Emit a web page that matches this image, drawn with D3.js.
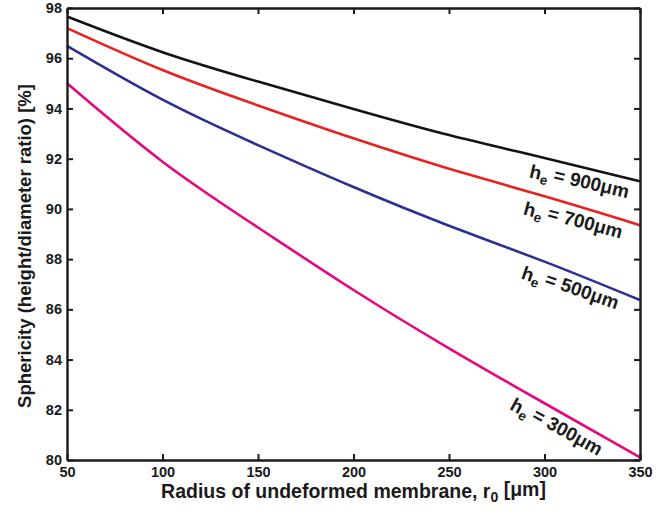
<!DOCTYPE html>
<html>
<head>
<meta charset="utf-8">
<script src="https://cdn.jsdelivr.net/npm/d3@7"></script>
<style>
  body { margin: 0; background: #fff; }
  text { font-family: "Liberation Sans", Arial, sans-serif; font-weight: bold; }
</style>
</head>
<body>
<svg id="chart" width="668" height="516"></svg>
<script>
// radius of undeformed membrane r0 [um]
var radius = [50, 100, 150, 200, 250, 300, 350];

// sphericity [%] for each membrane height he
var he900 = [97.66, 96.24, 95.07, 93.98, 92.94, 92.03, 91.1];
var he700 = [97.2, 95.53, 94.12, 92.81, 91.6, 90.5, 89.35];
var he500 = [96.49, 94.35, 92.54, 90.87, 89.33, 87.9, 86.37];
var he300 = [95.0, 91.88, 89.26, 86.77, 84.45, 82.26, 80.1];

var xTicks = [50, 100, 150, 200, 250, 300, 350];
var yTicks = [80, 82, 84, 86, 88, 90, 92, 94, 96, 98];

var series = [
  {name: "900", values: he900, color: "#141414", labelAt: 320, angle: 13},
  {name: "700", values: he700, color: "#e8221f", labelAt: 317, angle: 15},
  {name: "500", values: he500, color: "#2b3190", labelAt: 316, angle: 19},
  {name: "300", values: he300, color: "#e5077f", labelAt: 310, angle: 29}
];

var margin = {left: 67, right: 28, top: 8, bottom: 56};
var width = 668, height = 516;

var svg = d3.select("#chart");

var xScale = d3.scaleLinear().domain([50, 350]).range([margin.left, width - margin.right]);
var yScale = d3.scaleLinear().domain([80, 98]).range([height - margin.bottom, margin.top]);

// curves
var line = d3.line()
  .x(function(d) { return xScale(d[0]); })
  .y(function(d) { return yScale(d[1]); })
  .curve(d3.curveNatural);

series.forEach(function(s) {
  var pts = radius.map(function(r, i) { return [r, s.values[i]]; });
  svg.append("path")
    .attr("d", line(pts))
    .attr("fill", "none")
    .attr("stroke", s.color)
    .attr("stroke-width", 2.6);
});

// axes, ticks inward on all four sides
var tickLen = 6;
svg.append("g")
  .attr("transform", "translate(0," + yScale(80) + ")")
  .call(d3.axisBottom(xScale).tickValues(xTicks).tickSizeInner(-tickLen).tickSizeOuter(0).tickPadding(7))
  .call(styleAxis);
svg.append("g")
  .attr("transform", "translate(0," + yScale(98) + ")")
  .call(d3.axisTop(xScale).tickValues(xTicks).tickSizeInner(-tickLen).tickSizeOuter(0).tickFormat(""))
  .call(styleAxis);
svg.append("g")
  .attr("transform", "translate(" + xScale(50) + ",0)")
  .call(d3.axisLeft(yScale).tickValues(yTicks).tickSizeInner(-tickLen).tickSizeOuter(0).tickPadding(5))
  .call(styleAxis);
svg.append("g")
  .attr("transform", "translate(" + xScale(350) + ",0)")
  .call(d3.axisRight(yScale).tickValues(yTicks).tickSizeInner(-tickLen).tickSizeOuter(0).tickFormat(""))
  .call(styleAxis);

function styleAxis(g) {
  g.select(".domain").attr("stroke", "#1a1a1a").attr("stroke-width", 2.4);
  g.selectAll(".tick line").attr("stroke", "#1a1a1a").attr("stroke-width", 2);
  g.selectAll(".tick text").attr("fill", "#1a1a1a").style("font-size", "14.5px").style("font-weight", "bold");
}

// curve labels
function valueAt(s, r) {
  var i = d3.bisectRight(radius, r) - 1;
  i = Math.max(0, Math.min(radius.length - 2, i));
  var t = (r - radius[i]) / (radius[i + 1] - radius[i]);
  return s.values[i] + t * (s.values[i + 1] - s.values[i]);
}

series.forEach(function(s) {
  var px = xScale(s.labelAt), py = yScale(valueAt(s, s.labelAt));
  var t = svg.append("text")
    .attr("transform", "translate(" + px + "," + py + ") rotate(" + s.angle + ")")
    .attr("text-anchor", "middle")
    .attr("dy", "1.15em")
    .attr("fill", "#1a1a1a")
    .style("font-size", "19px");
  t.append("tspan").text("h");
  t.append("tspan").attr("dy", "0.3em").style("font-size", "13.5px").text("e");
  t.append("tspan").attr("dy", "-0.3em").text(" = " + s.name + "\u03bcm");
});

// axis titles
var xt = svg.append("text")
  .attr("x", (xScale(50) + xScale(350)) / 2)
  .attr("y", 498)
  .attr("text-anchor", "middle")
  .attr("fill", "#1a1a1a")
  .style("font-size", "19.5px");
xt.append("tspan").text("Radius of undeformed membrane, r");
xt.append("tspan").attr("dy", "0.3em").style("font-size", "14px").text("0");
xt.append("tspan").attr("dy", "-0.3em").text(" [\u03bcm]");

svg.append("text")
  .attr("transform", "translate(31,246) rotate(-90)")
  .attr("text-anchor", "middle")
  .attr("fill", "#1a1a1a")
  .style("font-size", "18.5px")
  .text("Sphericity (height/diameter ratio) [%]");
</script>
</body>
</html>
